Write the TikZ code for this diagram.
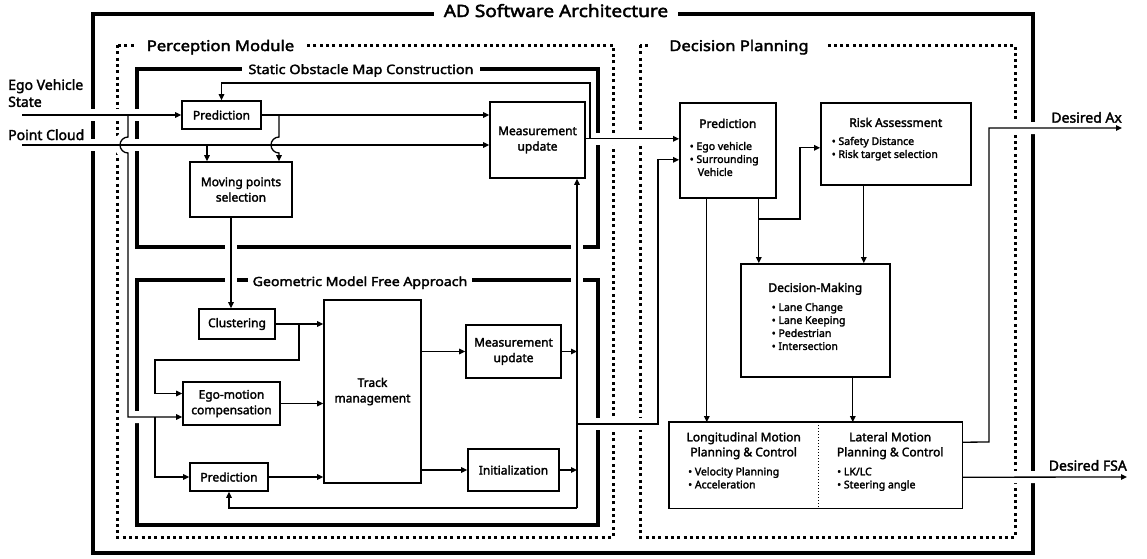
\documentclass[tikz,border=0pt]{standalone}
\usepackage{fontspec}
\setmainfont{Noto Sans}
\newfontfamily\semibf{Noto Sans}[FakeBold=2.2]
\newfontfamily\titlebf{Noto Sans}[FakeBold=2.5, FakeStretch=1.12]
\usetikzlibrary{arrows.meta}

\pgfdeclarelayer{frame}
\pgfdeclarelayer{gap}
\pgfsetlayers{frame,gap,main}

\newcommand\boxfont{\semibf\fontsize{12}{15.5}\selectfont}
\newcommand\itemfont{\semibf\fontsize{10.5}{13}\selectfont}
\newcommand\lblfont{\semibf\fontsize{14}{17}\selectfont}

% connector + white cut through the frames underneath
\newcommand\wire[2][]{%
  \begin{pgfonlayer}{gap}\draw[gapline] #2;\end{pgfonlayer}%
  \draw[wire,#1] #2;}

\begin{document}
\begin{tikzpicture}[x=1pt, y=-1pt,
    >={Triangle[length=6pt,width=5.5pt]},
    wire/.style={line width=1.3pt},
    gapline/.style={draw=white, line width=12pt},
    box/.style={draw, line width=1.6pt, font=\boxfont, align=center, inner sep=0pt},
    boxtext/.style={font=\boxfont, inner sep=0pt},
    outerframe/.style={line width=4pt},
    subframe/.style={line width=3.3pt},
    dotframe/.style={line width=3pt, dash pattern=on 3pt off 3.3pt},
    frametitle/.style={fill=white, anchor=base, inner ysep=3pt}]
  \useasboundingbox (0,0) rectangle (1147,558);

  % frames
  \begin{pgfonlayer}{frame}
    \draw[outerframe] (93,14) rectangle (1033,553);
    \draw[dotframe] (117,45) rectangle (613,537);
    \draw[dotframe] (640,45) rectangle (1015,537);
    \draw[subframe] (137,69) rectangle (598,247);
    \draw[subframe] (137,280) rectangle (598,525);
    \node[frametitle, inner xsep=10pt, font=\titlebf\fontsize{17}{20}\selectfont] (adtitle) at (556,17) {AD Software Architecture};
    \node[frametitle, inner xsep=10pt, font=\titlebf\fontsize{14.8}{17}\selectfont] (pertitle) at (220.5,51) {Perception Module};
    \node[frametitle, inner xsep=18pt, font=\titlebf\fontsize{14.8}{17}\selectfont] (dectitle) at (739,51) {Decision Planning};
    \node[frametitle, inner xsep=6pt, font=\titlebf\fontsize{12.9}{15}\selectfont] (somtitle) at (361,74) {Static Obstacle Map Construction};
    \node[frametitle, inner xsep=5pt, font=\titlebf\fontsize{12.6}{15}\selectfont] (gmftitle) at (360,286) {Geometric Model Free Approach};
  \end{pgfonlayer}

  % perception boxes
  \node[box, minimum width=79, minimum height=28] (pred1) at (221.5,115) {Prediction};
  \node[box, minimum width=102, minimum height=55] (mps) at (241,189.5) {Moving points\\selection};
  \node[box, minimum width=95, minimum height=76] (mu1) at (537.5,140) {Measurement\\update};
  \node[box, minimum width=76, minimum height=30] (clus) at (237,324) {Clustering};
  \node[box, minimum width=97, minimum height=43] (ego) at (231.5,403.5) {Ego-motion\\compensation};
  \node[box, minimum width=78, minimum height=28] (pred2) at (229,477) {Prediction};
  \node[box, minimum width=97, minimum height=183] (track) at (372.5,391.5) {Track\\management};
  \node[box, minimum width=95, minimum height=53] (mu2) at (513.5,351.5) {Measurement\\update};
  \node[box, minimum width=91, minimum height=42] (init) at (513.5,470) {Initialization};

  % decision boxes
  \node[box, anchor=north west] (dpred) at (679,102) {\parbox[c][95pt][t]{96pt}{\vspace*{16pt}\centering Prediction\par
    \vspace{9pt}\raggedright\leftskip=10pt\itemfont •~Ego vehicle\\•~Surrounding\\\hspace*{8pt}Vehicle\par}};
  \node[box, anchor=north west] (risk) at (820,102) {\parbox[c][82pt][t]{150pt}{\vspace*{15pt}\centering Risk Assessment\par
    \vspace{5pt}\raggedright\leftskip=11pt\itemfont •~Safety Distance\\•~Risk target selection\par}};
  \node[box, anchor=north west] (dm) at (740,263) {\parbox[c][113pt][t]{149pt}{\vspace*{19pt}\centering Decision-Making\par
    \vspace{6pt}\raggedright\leftskip=31pt\itemfont •~Lane Change\\•~Lane Keeping\\•~Pedestrian\\•~Intersection\par}};
  \node[boxtext, anchor=north west] (lon) at (669,422) {\parbox[c][86pt][t]{149pt}{\vspace*{10pt}\centering\fontsize{12}{15}\selectfont Longitudinal Motion\\Planning \& Control\par
    \vspace{6pt}\raggedright\leftskip=19pt\itemfont •~Velocity Planning\\•~Acceleration\par}};
  \node[boxtext, anchor=north west] (lat) at (818,422) {\parbox[c][86pt][t]{144pt}{\vspace*{10pt}\centering\fontsize{12}{15}\selectfont Lateral Motion\\Planning \& Control\par
    \vspace{6pt}\raggedright\leftskip=19pt\itemfont •~LK/LC\\•~Steering angle\par}};
  \draw[line width=1.6pt] (lon.north west) rectangle (lat.south east);
  \draw[line width=1pt, dotted] (lon.north east) -- (lon.south east);

  % inputs and outputs
  \node[anchor=north west, inner sep=0pt, align=left, font=\lblfont] (egolbl) at (8,79) {Ego Vehicle\\State};
  \node[anchor=base west, inner sep=0pt, font=\lblfont] (pclbl) at (8,140) {Point Cloud};
  \coordinate (egoin) at (22,115);
  \coordinate (cloudin) at (22,145);
  \coordinate (axend) at (1122,128);
  \coordinate (fsaend) at (1127,477);
  \node[anchor=south east, inner xsep=0pt, inner ysep=5pt, font=\lblfont] (axlbl) at (axend) {Desired Ax};
  \node[anchor=south east, inner xsep=0pt, inner ysep=6pt, font=\lblfont] (fsalbl) at (fsaend) {Desired FSA};

  % static obstacle map
  \wire[->]{(egoin) -- (pred1.west)}
  \wire[->]{(cloudin) -- (cloudin -| mu1.west)}
  \wire[->]{(pred1.east) -- (pred1.east -| mu1.west)}
  \coordinate (tapA) at (128,115);
  \coordinate (egolow) at ([yshift=-13.5pt]ego.west);
  \wire[->]{(tapA) -- ++(0,22) arc[start angle=90, end angle=270, radius=8pt] -- (tapA |- egolow) -- (egolow)}
  \coordinate (tapB) at (155,417);
  \wire[->]{(tapB) |- (pred2.west)}
  \coordinate (tapC) at (279,115);
  \wire[->]{(tapC) -- ++(0,22) arc[start angle=90, end angle=270, radius=8pt] -- (tapC |- mps.north)}
  \coordinate (tapD) at (207,145);
  \wire[->]{(tapD) -- (tapD |- mps.north)}
  \coordinate (tapG) at (590,138);
  \wire[->]{(tapG) -- (590,83) -| (pred1.north)}

  % model free approach
  \coordinate (mpsout) at ([xshift=-10pt]mps.south);
  \wire[->]{(mpsout) -- (mpsout |- clus.north)}
  \wire[->]{(clus.east) -- (clus.east -| track.west)}
  \coordinate (tapE) at (299,324);
  \coordinate (egohigh) at ([yshift=10pt]ego.west);
  \wire[->]{(tapE) |- (155,360) |- (egohigh)}
  \wire[->]{(ego.east) -- (ego.east -| track.west)}
  \wire[->]{(pred2.east) -- (pred2.east -| track.west)}
  \wire[->]{(mu2.west -| track.east) -- (mu2.west)}
  \wire[->]{(init.west -| track.east) -- (init.west)}
  \coordinate (busbot) at (577,508);
  \wire[->]{(busbot) -- (busbot |- mu1.south)}
  \wire[->]{(busbot) -| (pred2.south)}
  \wire[->]{(mu2.east) -- (mu2.east -| busbot)}
  \wire[->]{(init.east) -- (init.east -| busbot)}

  % to decision planning
  \coordinate (dphigh) at ([yshift=11.5pt]dpred.west);
  \coordinate (dplow) at ([yshift=-9.5pt]dpred.west);
  \wire[->]{(mu1.east |- dphigh) -- (dphigh)}
  \coordinate (tapF) at (577,424);
  \wire[->]{(tapF) -- (658,424) |- (dplow)}

  % decision planning
  \coordinate (dpl) at ([xshift=-21pt]dpred.south);
  \coordinate (dpr) at ([xshift=31pt]dpred.south);
  \wire[->]{(dpl) -- (dpl |- lon.north)}
  \wire[->]{(dpr) -- (dpr |- dm.north)}
  \coordinate (tapH) at (758,219);
  \coordinate (riskin) at ([yshift=-4pt]risk.west);
  \wire[->]{(tapH) -- (800,219) |- (riskin)}
  \coordinate (riskout) at ([xshift=-32pt]risk.south);
  \wire[->]{(riskout) -- (riskout |- dm.north)}
  \coordinate (dmout) at ([xshift=37.5pt]dm.south);
  \wire[->]{(dmout) -- (dmout |- lat.north)}
  \wire[->]{([yshift=23pt]lat.east) -- (989,442) |- (axend)}
  \wire[->]{([yshift=-12pt]lat.east) -- (fsaend)}
\end{tikzpicture}
\end{document}
